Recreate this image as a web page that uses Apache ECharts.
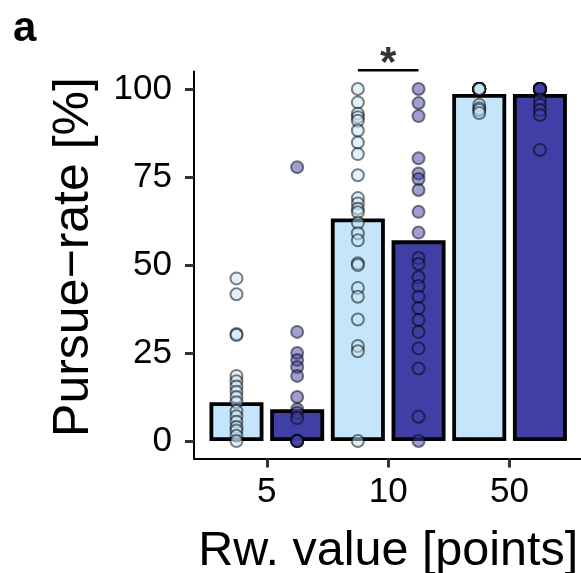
<!DOCTYPE html>
<html>
<head>
<meta charset="utf-8">
<script src="https://cdn.jsdelivr.net/npm/echarts@6/dist/echarts.min.js"></script>
<style>
html,body{margin:0;padding:0;background:#fff;}
#chart{width:581px;height:573px;}
</style>
</head>
<body>
<div id="chart"></div>
<script>
// ---- data ----
const categories = ['5', '10', '50'];
const yTicks = [0, 25, 50, 75, 100];
const groupNames = ['light', 'dark'];
const meanLight = [11, 63.2, 98.6];
const meanDark = [9, 57, 98.6];

const pointsLight5 = [46.2, 41.7, 30.4, 30.1, 18.5, 17, 15.5, 14, 12.5, 11, 8.5, 7, 5.5, 4, 3, 1.5, 0];
const pointsDark5 = [77.8, 31, 25, 23, 21, 18.5, 12.5, 9, 8, 6.5, 0, 0, 0, 0];
const pointsLight10 = [100, 96.2, 93, 92, 91, 88.2, 84.8, 81.5, 75.5, 69, 67.5, 66, 65, 62, 59, 57, 50.5, 50, 43.5, 41, 34.5, 27, 25.5, 0];
const pointsDark10 = [100, 96, 92.3, 80.3, 76, 74.4, 71.3, 65.1, 59.2, 52, 50.3, 46.5, 44, 41, 37.7, 34.4, 31, 26.3, 20.6, 6.9, 0];
const pointsLight50 = [100, 100, 100, 100, 100, 100, 100, 100, 100, 100, 100, 100, 95.5, 94.5, 94, 93.2];
const pointsDark50 = [100, 100, 100, 100, 100, 100, 100, 100, 100, 100, 100, 100, 100, 100, 97, 95.5, 94, 92.6, 82.7];

const sigLabel = '*';
const sigY = 105.3;

// ---- build ----
const colors = {light: '#c5e6fa', dark: '#3f3fa6'};
const dodge = 0.25;
const font = '"Liberation Sans", Arial, Helvetica, sans-serif';

const means = {light: meanLight, dark: meanDark};
const points = {
  light: [pointsLight5, pointsLight10, pointsLight50],
  dark: [pointsDark5, pointsDark10, pointsDark50]
};
function xPos(ci, g) { return (ci + 1) + (g === 'light' ? -dodge : dodge); }

const barData = [];
categories.forEach((c, ci) => {
  groupNames.forEach(g => {
    barData.push({value: [xPos(ci, g), means[g][ci]], itemStyle: {color: colors[g]}});
  });
});

const scatterSeries = groupNames.map(g => ({
  type: 'scatter',
  z: 5,
  symbolSize: 12,
  itemStyle: {color: colors[g], borderColor: '#000', borderWidth: 2, opacity: 0.5},
  data: [].concat(...categories.map((c, ci) => points[g][ci].map(v => [xPos(ci, g), v]))),
  silent: true
}));

const sigX1 = xPos(1, 'light'), sigX2 = xPos(1, 'dark');

const chart = echarts.init(document.getElementById('chart'), null, {renderer: 'canvas'});
chart.setOption({
  animation: false,
  backgroundColor: '#fff',
  grid: {left: 194, top: 71.4, width: 388.4, height: 387.2, containLabel: false, outerBoundsMode: 'none'},
  xAxis: {
    type: 'value', min: 0.4, max: 3.6,
    name: 'Rw. value [points]', nameLocation: 'middle', nameGap: 69,
    nameTextStyle: {fontFamily: font, fontSize: 48.5, color: '#000'},
    axisLine: {show: true, onZero: false, lineStyle: {color: '#000', width: 2}},
    axisTick: {show: true, customValues: [1, 2, 3], length: 9, lineStyle: {color: '#333', width: 3}},
    axisLabel: {customValues: [1, 2, 3], formatter: v => categories[Math.round(v) - 1],
      fontFamily: font, fontSize: 35, color: '#000', margin: 16},
    splitLine: {show: false}
  },
  yAxis: {
    type: 'value', min: -5, max: 105,
    name: 'Pursue\u2212rate [%]', nameLocation: 'middle', nameGap: 95,
    nameTextStyle: {fontFamily: font, fontSize: 50, color: '#000', padding: [0, 0, 0, 16]},
    axisLine: {show: true, onZero: false, lineStyle: {color: '#000', width: 2}},
    axisTick: {show: true, customValues: yTicks, length: 9, lineStyle: {color: '#333', width: 3}},
    axisLabel: {customValues: yTicks, fontFamily: font, fontSize: 35, color: '#000', margin: 22},
    splitLine: {show: false}
  },
  series: [
    {
      type: 'bar', barWidth: 54, z: 2, silent: true,
      itemStyle: {borderColor: '#000', borderWidth: 3.8},
      data: barData
    },
    ...scatterSeries,
    {
      type: 'line', clip: false, symbol: 'none', silent: true, z: 6,
      lineStyle: {color: '#000', width: 2.5},
      data: [[sigX1, sigY], [sigX2, sigY]]
    },
    {
      type: 'scatter', clip: false, symbolSize: 0, silent: true, z: 6,
      label: {show: true, position: 'inside', offset: [0, -6], formatter: sigLabel,
        fontFamily: font, fontSize: 42, fontWeight: 'bold', color: '#000'},
      data: [[(sigX1 + sigX2) / 2, sigY]]
    }
  ],
  graphic: [{
    type: 'text', left: 13, top: 8,
    style: {text: 'a', font: 'bold 42px "Liberation Sans", Arial, sans-serif', fill: '#000'}
  }]
});
</script>
</body>
</html>
